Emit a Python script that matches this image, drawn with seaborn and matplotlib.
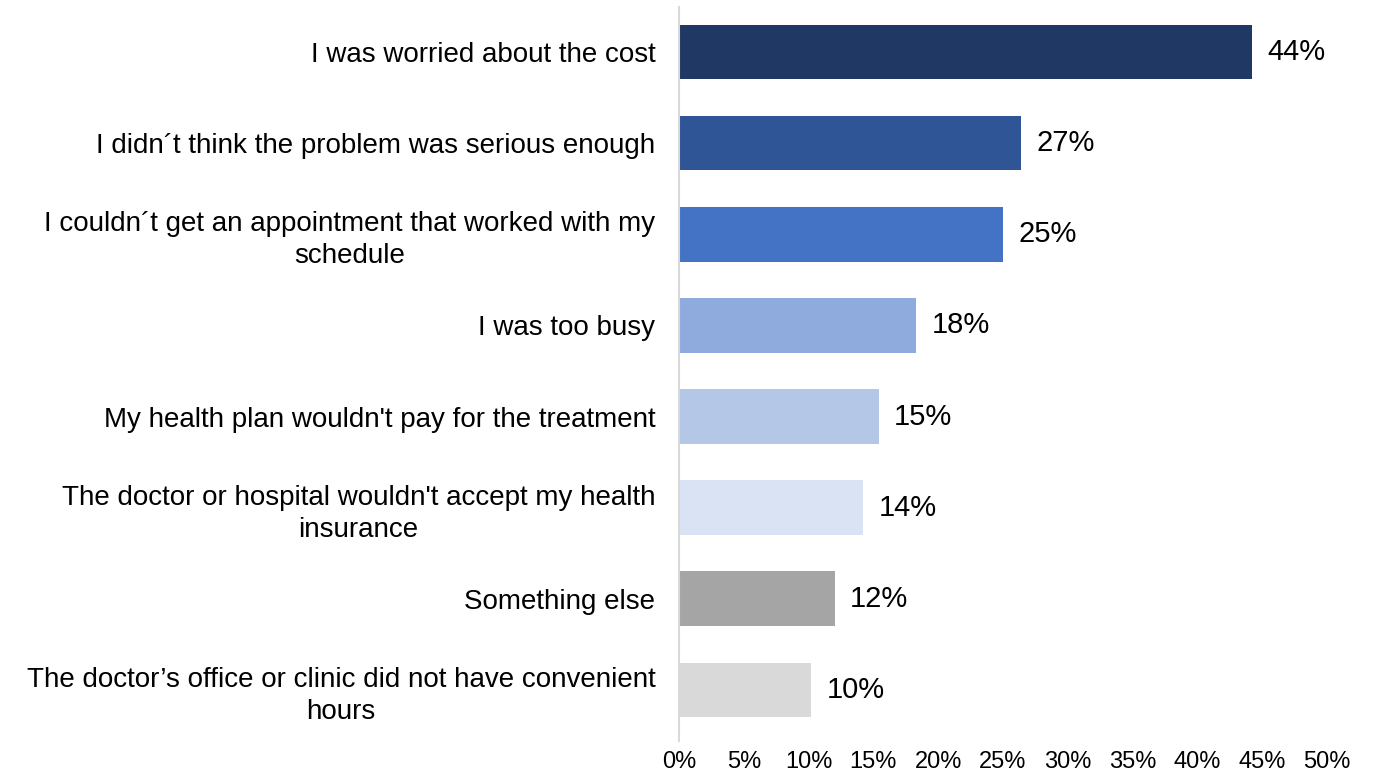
import matplotlib
matplotlib.use('Agg')
import matplotlib.pyplot as plt
import seaborn as sns
import pandas as pd

# reasons for skipping care, top to bottom
reasons = [
    "I was worried about the cost",
    "I didn\u00b4t think the problem was serious enough",
    "I couldn\u00b4t get an appointment that worked with my\nschedule",
    "I was too busy",
    "My health plan wouldn't pay for the treatment",
    "The doctor or hospital wouldn't accept my health\ninsurance",
    "Something else",
    "The doctor\u2019s office or clinic did not have convenient\nhours",
]
shares = [44.2, 26.4, 25.0, 18.3, 15.4, 14.2, 12.0, 10.2]
value_labels = ["44%", "27%", "25%", "18%", "15%", "14%", "12%", "10%"]
tick_values = [0, 5, 10, 15, 20, 25, 30, 35, 40, 45, 50]

colors = ["#1F3864", "#2F5597", "#4472C4", "#8FAADC",
          "#B4C7E7", "#DAE3F3", "#A5A5A5", "#D9D9D9"]

df = pd.DataFrame({"reason": reasons, "share": shares})

sns.set_style("white")
plt.rcParams['font.family'] = ['Liberation Sans', 'DejaVu Sans']

fig = plt.figure(figsize=(13.73, 7.75), dpi=100)
ax = fig.add_axes([679/1373, 1 - 741/775, (1327-679)/1373, (741-7)/775])

sns.barplot(data=df, x="share", y="reason", hue="reason", palette=colors,
            legend=False, width=0.6, saturation=1, linewidth=0, ax=ax)

ax.set_xlim(0, 50)
ax.set_ylim(7.56, -0.494)
ax.set_xticks(tick_values)
ax.set_xticklabels([f"{t}%" for t in tick_values], fontsize=17, color='black')
ax.tick_params(axis='x', length=0, pad=7)
ax.tick_params(axis='y', length=0, pad=17, labelsize=20, labelcolor='black')
for lab in ax.get_yticklabels():
    lab.set_horizontalalignment('right')
    lab.set_multialignment('center')
    lab.set_linespacing(1.3)
ax.set_xlabel("")
ax.set_ylabel("")

for s in ['top', 'right', 'bottom']:
    ax.spines[s].set_visible(False)
ax.spines['left'].set_color('#D9D9D9')
ax.spines['left'].set_linewidth(1.5)

for i, (v, txt) in enumerate(zip(shares, value_labels)):
    ax.annotate(txt, (v, i), xytext=(11, 0), textcoords='offset points',
                va='center', ha='left', fontsize=21, color='black')

plt.savefig('out.png', dpi=100)
